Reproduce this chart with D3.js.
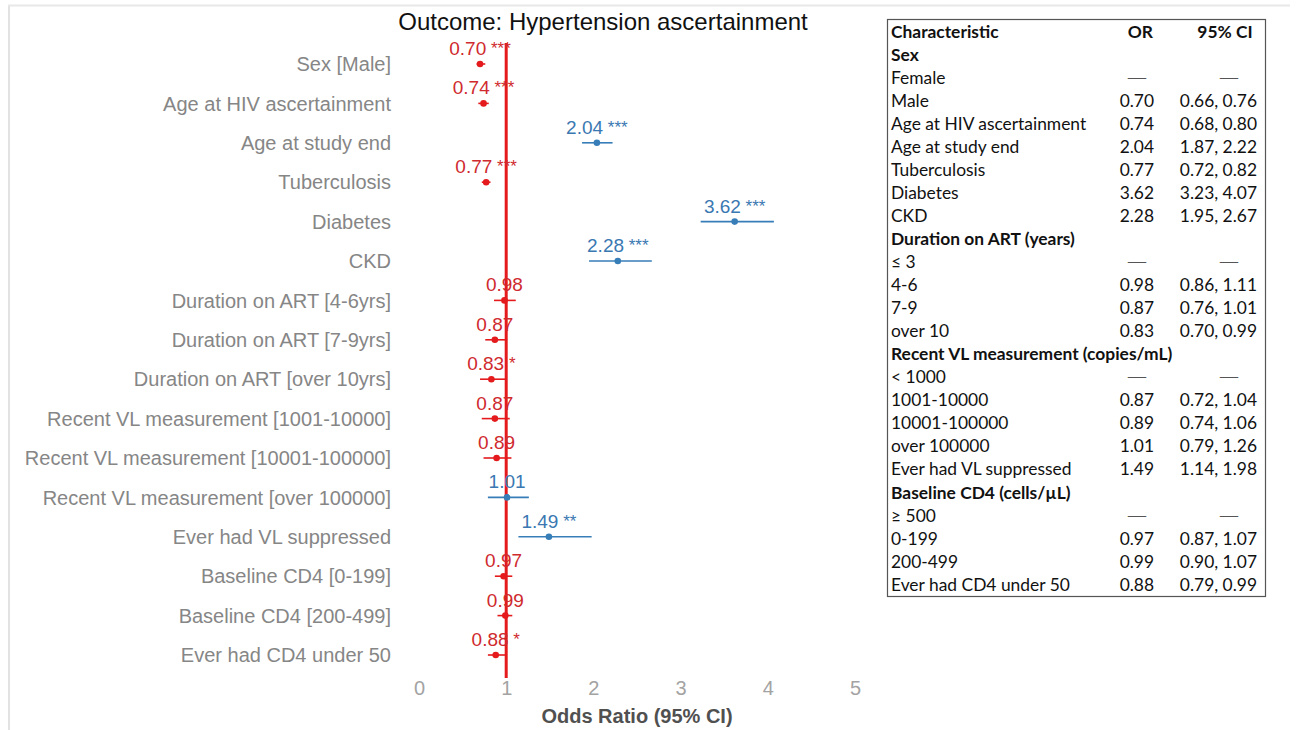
<!DOCTYPE html>
<html>
<head>
<meta charset="utf-8">
<script src="https://cdn.jsdelivr.net/npm/d3@7"></script>
<style>
html,body{margin:0;padding:0;background:#fff;}
svg{display:block;}
</style>
</head>
<body>
<svg id="chart" width="1296" height="730"></svg>
<script>
// ---- Forest plot data ----
const labels = [
  "Sex [Male]","Age at HIV ascertainment","Age at study end","Tuberculosis",
  "Diabetes","CKD","Duration on ART [4-6yrs]","Duration on ART [7-9yrs]",
  "Duration on ART [over 10yrs]","Recent VL measurement [1001-10000]",
  "Recent VL measurement [10001-100000]","Recent VL measurement [over 100000]",
  "Ever had VL suppressed","Baseline CD4 [0-199]","Baseline CD4 [200-499]",
  "Ever had CD4 under 50"
];
const oddsRatio = [0.70,0.74,2.04,0.77,3.62,2.28,0.98,0.87,0.83,0.87,0.89,1.01,1.49,0.97,0.99,0.88];
const ciLow     = [0.66,0.68,1.87,0.72,3.23,1.95,0.86,0.76,0.70,0.72,0.74,0.79,1.14,0.87,0.90,0.79];
const ciHigh    = [0.76,0.80,2.22,0.82,4.07,2.67,1.11,1.01,0.99,1.04,1.06,1.26,1.98,1.07,1.07,0.99];
const pStars    = ["***","***","***","***","***","***","","","*","","","","**","","","*"];
const xTicks = [0,1,2,3,4,5];

// ---- Table data ----
const tableChar = ["Characteristic","Sex","Female","Male","Age at HIV ascertainment","Age at study end",
  "Tuberculosis","Diabetes","CKD","Duration on ART (years)","≤ 3","4-6","7-9","over 10",
  "Recent VL measurement (copies/mL)","< 1000","1001-10000","10001-100000","over 100000",
  "Ever had VL suppressed","Baseline CD4 (cells/µL)","≥ 500","0-199","200-499","Ever had CD4 under 50"];
const tableOR = ["OR","","—","0.70","0.74","2.04","0.77","3.62","2.28","","—","0.98","0.87","0.83",
  "","—","0.87","0.89","1.01","1.49","","—","0.97","0.99","0.88"];
const tableCI = ["95% CI","","—","0.66, 0.76","0.68, 0.80","1.87, 2.22","0.72, 0.82","3.23, 4.07","1.95, 2.67",
  "","—","0.86, 1.11","0.76, 1.01","0.70, 0.99","","—","0.72, 1.04","0.74, 1.06","0.79, 1.26","1.14, 1.98",
  "","—","0.87, 1.07","0.90, 1.07","0.79, 0.99"];
const tableBold = [true,true,false,false,false,false,false,false,false,true,false,false,false,false,
  true,false,false,false,false,false,true,false,false,false,false];

const RED = "#e41a1c", BLUE = "#377eb8", RED_T = "#cf2a2e", BLUE_T = "#3a78b2";
const FONT = "Liberation Sans, Arial, sans-serif";

const svg = d3.select("#chart");

// background frame lines
svg.append("line").attr("x1",9).attr("x2",9).attr("y1",5).attr("y2",730)
  .attr("stroke","#e2e2e2").attr("stroke-width",2);
svg.append("line").attr("x1",8).attr("x2",1290).attr("y1",5.5).attr("y2",5.5)
  .attr("stroke","#e8e8e8").attr("stroke-width",2);

const x = d3.scaleLinear().domain([0,5]).range([419,855]);
const y = d3.scalePoint().domain(labels).range([64,655]);

// title
svg.append("text").attr("x",603).attr("y",30).attr("text-anchor","middle")
  .attr("font-family",FONT).attr("font-size",24)
  .attr("fill","#111").text("Outcome: Hypertension ascertainment");

// y labels
svg.append("g").selectAll("text").data(labels).join("text")
  .attr("x",391).attr("y",d=>y(d)).attr("dy","0.36em").attr("text-anchor","end")
  .attr("font-family",FONT).attr("font-size",20)
  .attr("fill","#868686").text(d=>d);

// x axis
const xAxis = d3.axisBottom(x).tickValues(xTicks).tickFormat(d3.format("d")).tickSize(0).tickPadding(0);
const gx = svg.append("g").attr("transform","translate(0,681)").call(xAxis);
gx.select(".domain").remove();
gx.selectAll("text").attr("font-family",FONT)
  .attr("font-size",20).attr("fill","#a3a3a3").attr("dy","0.7em");

svg.append("text").attr("x",637).attr("y",723).attr("text-anchor","middle")
  .attr("font-family",FONT).attr("font-size",20)
  .attr("font-weight","bold").attr("fill","#505050").text("Odds Ratio (95% CI)");

// reference line at OR = 1
svg.append("line").attr("x1",x(1)).attr("x2",x(1)).attr("y1",43).attr("y2",678)
  .attr("stroke",RED).attr("stroke-width",3);

const rows = labels.map((l,i)=>({label:l, or:oddsRatio[i], lo:ciLow[i], hi:ciHigh[i], star:pStars[i]}));
const col = d => d.or >= 1 ? BLUE : RED;
const colT = d => d.or >= 1 ? BLUE_T : RED_T;

const g = svg.append("g");
g.selectAll("line.ci").data(rows).join("line").attr("class","ci")
  .attr("x1",d=>x(d.lo)).attr("x2",d=>x(d.hi)).attr("y1",d=>y(d.label)).attr("y2",d=>y(d.label))
  .attr("stroke",col).attr("stroke-width",1.6);
g.selectAll("circle").data(rows).join("circle")
  .attr("cx",d=>x(d.or)).attr("cy",d=>y(d.label)).attr("r",3.3).attr("fill",col);

const lab = g.selectAll("text.val").data(rows).join("text").attr("class","val")
  .attr("x",d=>x(d.or)).attr("y",d=>y(d.label)-9).attr("text-anchor","middle")
  .attr("font-family",FONT).attr("fill",colT);
lab.append("tspan").attr("font-size",19).text(d=>d.or.toFixed(2));
lab.filter(d=>d.star).append("tspan").attr("font-size",17).attr("dy",-1).text(d=>" "+d.star);

// ---- table ----
const tx = 887, ty = 19, tw = 378, th = 577;
svg.append("rect").attr("x",tx+0.5).attr("y",ty+0.5).attr("width",tw).attr("height",th)
  .attr("fill","none").attr("stroke","#555").attr("stroke-width",1.2);
const rowH = 23.05, base0 = 37.5;
const tf = "Lato, Carlito, Calibri, sans-serif", tfs = 17.4;
const tg = svg.append("g").attr("font-family",tf).attr("font-size",tfs).attr("fill","#111");
tableChar.forEach((c,i)=>{
  const yy = base0 + i*rowH;
  tg.append("text").attr("x",891).attr("y",yy).attr("font-weight",tableBold[i]?"bold":"normal").text(c);
  const o = tableOR[i], ci = tableCI[i];
  if (i===0){
    tg.append("text").attr("x",1153).attr("y",yy).attr("text-anchor","end").attr("font-weight","bold").text(o);
    tg.append("text").attr("x",1225).attr("y",yy).attr("text-anchor","middle").attr("font-weight","bold").text(ci);
  } else if (o==="—"){
    tg.append("text").attr("x",1126).attr("y",yy-1).attr("font-size",16)
      .attr("textLength",22).attr("lengthAdjust","spacingAndGlyphs").attr("fill","#555").text(o);
    tg.append("text").attr("x",1218).attr("y",yy-1).attr("font-size",16)
      .attr("textLength",22).attr("lengthAdjust","spacingAndGlyphs").attr("fill","#555").text(ci);
  } else if (o){
    tg.append("text").attr("x",1154).attr("y",yy).attr("text-anchor","end").text(o);
    tg.append("text").attr("x",1257).attr("y",yy).attr("text-anchor","end").text(ci);
  }
});
</script>
</body>
</html>
